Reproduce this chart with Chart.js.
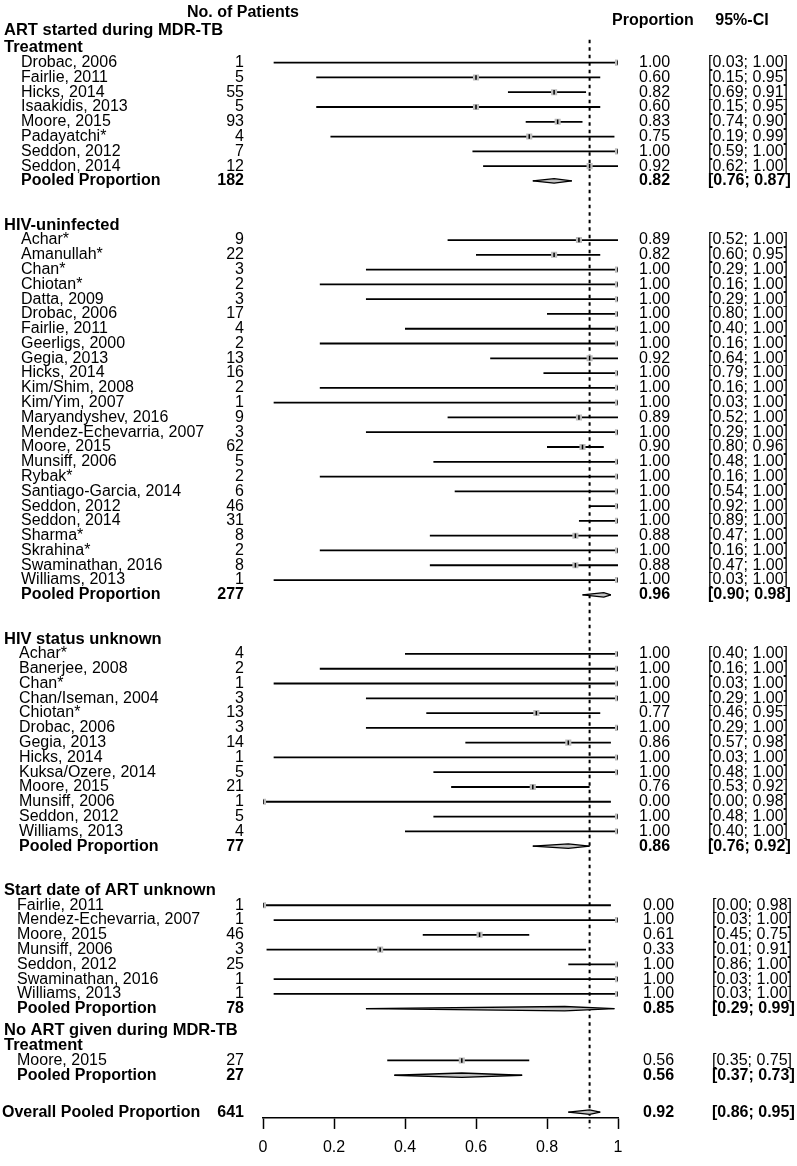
<!DOCTYPE html>
<html>
<head>
<meta charset="utf-8">
<script src="https://cdn.jsdelivr.net/npm/chart.js@4.4.1/dist/chart.umd.min.js"></script>
<style>
html, body { margin: 0; padding: 0; background: #fff; }
#wrap { width: 797px; height: 1166px; }
</style>
</head>
<body>
<div id="wrap"><canvas id="forestChart" width="797" height="1166"></canvas></div>
<script>
// subgroup titles
const groupTitles = [
    ['ART started during MDR-TB', 'Treatment'],
    ['HIV-uninfected'],
    ['HIV status unknown'],
    ['Start date of ART unknown'],
    ['No ART given during MDR-TB', 'Treatment']
];

// ART started during MDR-TB treatment
const studies1 = ['Drobac, 2006', 'Fairlie, 2011', 'Hicks, 2014', 'Isaakidis, 2013', 'Moore, 2015', 'Padayatchi*', 'Seddon, 2012', 'Seddon, 2014'];
const n1 = [1, 5, 55, 5, 93, 4, 7, 12];
const prop1 = [1.00, 0.60, 0.82, 0.60, 0.83, 0.75, 1.00, 0.92];
const lower1 = [0.03, 0.15, 0.69, 0.15, 0.74, 0.19, 0.59, 0.62];
const upper1 = [1.00, 0.95, 0.91, 0.95, 0.90, 0.99, 1.00, 1.00];

// HIV-uninfected
const studies2 = ['Achar*', 'Amanullah*', 'Chan*', 'Chiotan*', 'Datta, 2009', 'Drobac, 2006', 'Fairlie, 2011', 'Geerligs, 2000', 'Gegia, 2013', 'Hicks, 2014', 'Kim/Shim, 2008', 'Kim/Yim, 2007', 'Maryandyshev, 2016', 'Mendez-Echevarria, 2007', 'Moore, 2015', 'Munsiff, 2006', 'Rybak*', 'Santiago-Garcia, 2014', 'Seddon, 2012', 'Seddon, 2014', 'Sharma*', 'Skrahina*', 'Swaminathan, 2016', 'Williams, 2013'];
const n2 = [9, 22, 3, 2, 3, 17, 4, 2, 13, 16, 2, 1, 9, 3, 62, 5, 2, 6, 46, 31, 8, 2, 8, 1];
const prop2 = [0.89, 0.82, 1.00, 1.00, 1.00, 1.00, 1.00, 1.00, 0.92, 1.00, 1.00, 1.00, 0.89, 1.00, 0.90, 1.00, 1.00, 1.00, 1.00, 1.00, 0.88, 1.00, 0.88, 1.00];
const lower2 = [0.52, 0.60, 0.29, 0.16, 0.29, 0.80, 0.40, 0.16, 0.64, 0.79, 0.16, 0.03, 0.52, 0.29, 0.80, 0.48, 0.16, 0.54, 0.92, 0.89, 0.47, 0.16, 0.47, 0.03];
const upper2 = [1.00, 0.95, 1.00, 1.00, 1.00, 1.00, 1.00, 1.00, 1.00, 1.00, 1.00, 1.00, 1.00, 1.00, 0.96, 1.00, 1.00, 1.00, 1.00, 1.00, 1.00, 1.00, 1.00, 1.00];

// HIV status unknown
const studies3 = ['Achar*', 'Banerjee, 2008', 'Chan*', 'Chan/Iseman, 2004', 'Chiotan*', 'Drobac, 2006', 'Gegia, 2013', 'Hicks, 2014', 'Kuksa/Ozere, 2014', 'Moore, 2015', 'Munsiff, 2006', 'Seddon, 2012', 'Williams, 2013'];
const n3 = [4, 2, 1, 3, 13, 3, 14, 1, 5, 21, 1, 5, 4];
const prop3 = [1.00, 1.00, 1.00, 1.00, 0.77, 1.00, 0.86, 1.00, 1.00, 0.76, 0.00, 1.00, 1.00];
const lower3 = [0.40, 0.16, 0.03, 0.29, 0.46, 0.29, 0.57, 0.03, 0.48, 0.53, 0.00, 0.48, 0.40];
const upper3 = [1.00, 1.00, 1.00, 1.00, 0.95, 1.00, 0.98, 1.00, 1.00, 0.92, 0.98, 1.00, 1.00];

// Start date of ART unknown
const studies4 = ['Fairlie, 2011', 'Mendez-Echevarria, 2007', 'Moore, 2015', 'Munsiff, 2006', 'Seddon, 2012', 'Swaminathan, 2016', 'Williams, 2013'];
const n4 = [1, 1, 46, 3, 25, 1, 1];
const prop4 = [0.00, 1.00, 0.61, 0.33, 1.00, 1.00, 1.00];
const lower4 = [0.00, 0.03, 0.45, 0.01, 0.86, 0.03, 0.03];
const upper4 = [0.98, 1.00, 0.75, 0.91, 1.00, 1.00, 1.00];

// No ART given during MDR-TB treatment
const studies5 = ['Moore, 2015'];
const n5 = [27];
const prop5 = [0.56];
const lower5 = [0.35];
const upper5 = [0.75];

// pooled per subgroup
const pooledN = [182, 277, 77, 78, 27];
const pooledProp = [0.82, 0.96, 0.86, 0.85, 0.56];
const pooledLower = [0.76, 0.90, 0.76, 0.29, 0.37];
const pooledUpper = [0.87, 0.98, 0.92, 0.99, 0.73];

// overall
const overallN = 641;
const overallProp = 0.92;
const overallLower = 0.86;
const overallUpper = 0.95;

const xTicks = [0, 0.2, 0.4, 0.6, 0.8, 1];

// --- layout (rows of 15px, row 0 = first study) ---
const FONT = '"Liberation Sans", Arial, Helvetica, sans-serif';
const gapBefore = [0, 3, 3, 3, 1.5];
const labelX = [21, 21, 19, 17, 17];
const propX = [639, 639, 639, 643, 643];
const ciX = [708, 708, 708, 712, 712];
const nX = 244;

const groups = [
    { studies: studies1, n: n1, prop: prop1, lower: lower1, upper: upper1 },
    { studies: studies2, n: n2, prop: prop2, lower: lower2, upper: upper2 },
    { studies: studies3, n: n3, prop: prop3, lower: lower3, upper: upper3 },
    { studies: studies4, n: n4, prop: prop4, lower: lower4, upper: upper4 },
    { studies: studies5, n: n5, prop: prop5, lower: lower5, upper: upper5 }
];

const fmtCI = (lo, hi) => '[' + lo.toFixed(2) + '; ' + hi.toFixed(2) + ']';

const texts = [];
const ciLine = [];
const points = [];
const diamonds = [];

texts.push({ row: -3.4, text: 'No. of Patients', x: 243, align: 'center', bold: true });
texts.push({ row: -2.87, text: 'Proportion', x: 653, align: 'center', bold: true });
texts.push({ row: -2.87, text: '95%-CI', x: 742, align: 'center', bold: true });

let row = -2;
groups.forEach(function(g, gi) {
    if (gi > 0) row += gapBefore[gi];
    groupTitles[gi].forEach(function(t, ti) {
        texts.push({ row: (gi === 0 && ti === 0) ? row - 0.2 : row, text: t, x: 4, align: 'left', bold: true, size: 16.5 });
        row++;
    });
    g.studies.forEach(function(name, i) {
        texts.push({ row: row, text: name, x: labelX[gi], align: 'left', bold: false });
        texts.push({ row: row, text: String(g.n[i]), x: nX, align: 'right', bold: false });
        texts.push({ row: row, text: g.prop[i].toFixed(2), x: propX[gi], align: 'left', bold: false });
        texts.push({ row: row, text: fmtCI(g.lower[i], g.upper[i]), x: ciX[gi], align: 'left', bold: false });
        ciLine.push({ x: g.lower[i], y: row }, { x: g.upper[i], y: row }, { x: null, y: null });
        points.push({ x: g.prop[i], y: row });
        row++;
    });
    texts.push({ row: row, text: 'Pooled Proportion', x: labelX[gi], align: 'left', bold: true });
    texts.push({ row: row, text: String(pooledN[gi]), x: nX, align: 'right', bold: true });
    texts.push({ row: row, text: pooledProp[gi].toFixed(2), x: propX[gi], align: 'left', bold: true });
    texts.push({ row: row, text: fmtCI(pooledLower[gi], pooledUpper[gi]), x: ciX[gi], align: 'left', bold: true });
    diamonds.push({ lo: pooledLower[gi], p: pooledProp[gi], hi: pooledUpper[gi], row: row });
});
row += 2.5;
texts.push({ row: row, text: 'Overall Pooled Proportion', x: 2, align: 'left', bold: true });
texts.push({ row: row, text: String(overallN), x: nX, align: 'right', bold: true });
texts.push({ row: row, text: overallProp.toFixed(2), x: 643, align: 'left', bold: true });
texts.push({ row: row, text: fmtCI(overallLower, overallUpper), x: 712, align: 'left', bold: true });
diamonds.push({ lo: overallLower, p: overallProp, hi: overallUpper, row: row });

// diamonds as pairs of lines, the lower one filled to the upper one
const halfH = 0.15;
const diamondSets = [];
diamonds.forEach(function(d) {
    diamondSets.push({
        type: 'line',
        data: [{ x: d.lo, y: d.row }, { x: d.p, y: d.row - halfH }, { x: d.hi, y: d.row }],
        borderColor: '#000', borderWidth: 1.3, pointRadius: 0, fill: false
    });
    diamondSets.push({
        type: 'line',
        data: [{ x: d.lo, y: d.row }, { x: d.p, y: d.row + halfH }, { x: d.hi, y: d.row }],
        borderColor: '#000', borderWidth: 1.3, pointRadius: 0,
        fill: '-1', backgroundColor: '#c2c2c2'
    });
});

const textPlugin = {
    id: 'forestText',
    afterDraw: function(chart) {
        const c = chart.ctx;
        const y = chart.scales.y;
        c.save();
        c.fillStyle = '#000';
        c.textBaseline = 'middle';
        texts.forEach(function(t) {
            c.font = (t.bold ? 'bold ' : '') + (t.size || 16) + 'px ' + FONT;
            c.textAlign = t.align;
            c.fillText(t.text, t.x, y.getPixelForValue(t.row));
        });
        c.restore();
    }
};

document.addEventListener('DOMContentLoaded', function() {
    const ctx = document.getElementById('forestChart');
    new Chart(ctx, {
        type: 'scatter',
        data: {
            datasets: [
                {
                    type: 'scatter',
                    data: points,
                    pointStyle: 'line',
                    rotation: 90,
                    pointRadius: 2.2,
                    borderColor: '#000',
                    borderWidth: 1.5
                },
                {
                    type: 'scatter',
                    data: points,
                    pointStyle: 'rect',
                    pointRadius: 4.3,
                    backgroundColor: '#bdbdbd',
                    borderWidth: 0
                },
                {
                    type: 'line',
                    data: ciLine,
                    borderColor: '#000',
                    borderWidth: 1.8,
                    pointRadius: 0,
                    spanGaps: false,
                    fill: false
                },
                ...diamondSets,
                {
                    type: 'line',
                    data: [{ x: overallProp, y: -1.55 }, { x: overallProp, y: 72.1 }],
                    borderColor: '#000',
                    borderWidth: 2,
                    borderDash: [3.5, 4],
                    pointRadius: 0,
                    fill: false,
                    clip: false
                }
            ]
        },
        options: {
            responsive: false,
            animation: false,
            events: [],
            layout: { padding: { left: 263, right: 179, top: 0, bottom: 0 } },
            plugins: {
                legend: { display: false },
                tooltip: { enabled: false }
            },
            scales: {
                x: {
                    type: 'linear',
                    position: 'bottom',
                    min: 0,
                    max: 1,
                    afterBuildTicks: function(scale) {
                        scale.ticks = xTicks.map(function(v) { return { value: v }; });
                    },
                    grid: {
                        display: true,
                        drawOnChartArea: false,
                        drawTicks: true,
                        tickLength: 11,
                        tickColor: '#000',
                        tickWidth: 1.5
                    },
                    border: { display: true, color: '#000', width: 1.5 },
                    ticks: {
                        color: '#000',
                        padding: 11,
                        maxRotation: 0,
                        autoSkip: false,
                        font: { size: 16, family: FONT, lineHeight: 0.94 },
                        callback: function(value) { return String(value); }
                    }
                },
                y: {
                    type: 'linear',
                    display: false,
                    reverse: true,
                    min: -3.8667,
                    max: 71.39
                }
            }
        },
        plugins: [textPlugin]
    });
});
</script>
</body>
</html>
